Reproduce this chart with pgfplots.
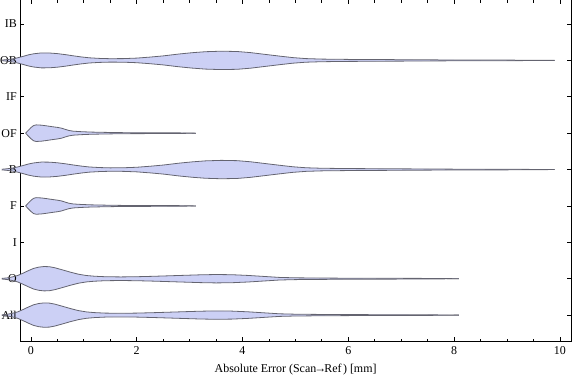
\documentclass[border=0pt]{standalone}
\usepackage{fontspec}
\setmainfont{Liberation Serif}
\usepackage{pgfplots}
\pgfplotsset{compat=1.18}
\usepackage{pgfplotstable}
\usepgfplotslibrary{fillbetween}

\definecolor{vfill}{RGB}{204,208,245}
\definecolor{vedge}{RGB}{100,100,112}

% half-widths in pixels (36.4 px per category)
\pgfplotstableread{
x w
-0.55 0.3
-0.45 0.8
-0.35 1.8
-0.25 3.2
-0.15 5.5
-0.05 8.0
0.05 10.3
0.15 11.6
0.25 12.2
0.35 12.0
0.45 11.0
0.6 8.8
0.75 6.5
0.9 4.5
1.05 3.2
1.2 2.5
1.4 2.0
1.7 1.8
2.0 2.0
2.3 2.4
2.6 2.9
2.9 3.4
3.2 3.9
3.5 4.2
3.8 4.0
4.1 3.3
4.4 2.3
4.7 1.3
5.0 0.9
5.4 0.7
6.0 0.5
6.8 0.4
7.5 0.3
8.09 0
}\shapeA

\pgfplotstableread{
x w
-0.55 0.3
-0.45 0.8
-0.35 1.5
-0.25 2.6
-0.15 4.0
-0.05 5.5
0.05 6.6
0.2 7.5
0.35 7.4
0.5 6.8
0.65 5.8
0.8 4.6
0.95 3.5
1.1 2.6
1.3 2.0
1.5 1.7
1.75 1.8
2.0 2.3
2.25 3.3
2.5 4.5
2.8 6.4
3.05 7.7
3.3 8.7
3.6 9.2
3.9 8.9
4.15 7.8
4.4 6.2
4.7 4.3
4.95 2.8
5.2 1.8
5.5 1.3
6.0 1.0
6.7 0.8
7.4 0.6
8.0 0.4
9.0 0.3
9.9 0
}\shapeB

\pgfplotstableread{
x w
-0.1 0
-0.05 2.8
0.0 5.5
0.05 7.6
0.1 8.3
0.2 8.0
0.3 7.3
0.4 6.5
0.5 5.8
0.58 5.0
0.65 3.8
0.72 2.7
0.8 2.0
0.95 1.5
1.13 1.1
1.4 0.8
1.76 0.5
2.3 0.4
2.8 0.3
3.12 0
}\shapeC

\newcommand{\violin}[3]{%
  \addplot[vedge, line width=0.8bp, name path=#3u] table[x=x, y expr=#2+\thisrow{w}/36.4] {#1};
  \addplot[vedge, line width=0.8bp, name path=#3l] table[x=x, y expr=#2-\thisrow{w}/36.4] {#1};
  \addplot[vfill] fill between[of=#3u and #3l];
}

\begin{document}
\begin{tikzpicture}
\begin{axis}[
  scale only axis, width=550.7bp, height=341.3bp,
  xmin=-0.2, xmax=10.21, ymin=0.28, ymax=9.66,
  xtick={0,2,...,10}, minor x tick num=3,
  ytick={1,...,9}, yticklabels={All,O,I,F,B,OF,IF,OB,IB},
  tick align=inside, major tick length=4bp, minor tick length=2.5bp,
  axis line style={line width=1bp},
  every tick/.style={black, line width=0.7bp},
  xlabel={Absolute Error (Scan\kern-2bp→\kern-2bp Ref\kern1.5bp) [mm]},
  xlabel style={yshift=-2bp},
  font=\fontsize{12}{14}\selectfont,
  clip=false,
  /pgf/number format/assume math mode=true,
  xticklabel style={yshift=-2bp},
]
\violin{\shapeA}{1}{all}
\violin{\shapeA}{2}{o}
\violin{\shapeC}{4}{f}
\violin{\shapeB}{5}{b}
\violin{\shapeC}{6}{of}
\violin{\shapeB}{8}{ob}
\coordinate (ll) at (rel axis cs:0,0);
\coordinate (ur) at (rel axis cs:1,1);
\end{axis}
\pgfresetboundingbox
\path ([xshift=-20.3bp,yshift=-40bp]ll) rectangle ([xshift=5bp]ur);
\end{tikzpicture}
\end{document}
